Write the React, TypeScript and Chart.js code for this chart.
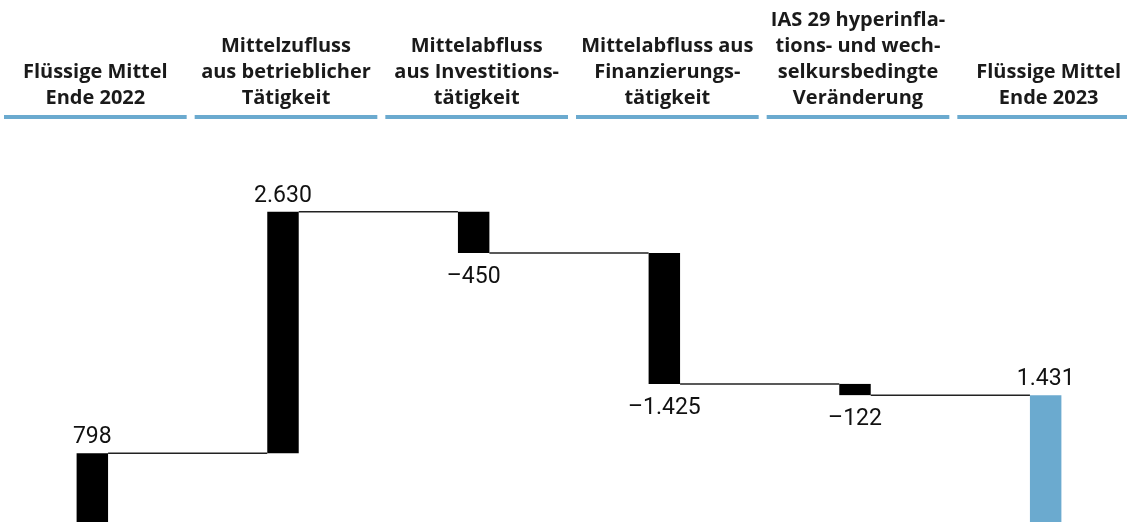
import React, { useEffect, useRef } from 'react';
import { Chart, registerables } from 'chart.js';

Chart.register(...registerables);

// ---- data ----
const categories: string[][] = [
  ['Flüssige Mittel', 'Ende 2022'],
  ['Mittelzufluss', 'aus betrieblicher', 'Tätigkeit'],
  ['Mittelabfluss', 'aus Investitions-', 'tätigkeit'],
  ['Mittelabfluss aus', 'Finanzierungs-', 'tätigkeit'],
  ['IAS 29 hyperinfla-', 'tions- und wech-', 'selkursbedingte', 'Veränderung'],
  ['Flüssige Mittel', 'Ende 2023'],
];
const values: number[] = [798, 2630, -450, -1425, -122, 1431];
const isTotal: boolean[] = [true, false, false, false, false, true];
const isFinal: boolean[] = [false, false, false, false, false, true];

const BLACK = '#000000';
const BLUE = '#6BAACF';
const TEXT = '#1a1a1a';

function fmt(v: number): string {
  const s = String(Math.abs(v)).replace(/\B(?=(\d{3})+(?!\d))/g, '.');
  return (v < 0 ? '\u2013' : '') + s;
}

// derived floating ranges
const ends: number[] = [];
const ranges: [number, number][] = [];
{
  let run = 0;
  values.forEach((v, i) => {
    if (isTotal[i]) {
      run = v;
      ranges.push([0, v]);
    } else {
      const s = run;
      run += v;
      ranges.push([Math.min(s, run), Math.max(s, run)]);
    }
    ends.push(run);
  });
}

const decorPlugin = {
  id: 'waterfallDecor',
  afterDraw(chart: any) {
    const ctx = chart.ctx as CanvasRenderingContext2D;
    const x = chart.scales.x;
    const y = chart.scales.y;
    const meta = chart.getDatasetMeta(0);
    ctx.save();
    // header underline bars
    const cw = x.width / categories.length;
    ctx.fillStyle = BLUE;
    categories.forEach((_, i) => {
      const cx = x.getPixelForTick(i) + 3;
      const w = cw - 8;
      ctx.fillRect(cx - w / 2, x.bottom - 5, w, 4);
    });
    // connectors
    ctx.strokeStyle = '#222222';
    ctx.lineWidth = 1.5;
    for (let i = 0; i < meta.data.length - 1; i++) {
      const a = meta.data[i];
      const b = meta.data[i + 1];
      const py = y.getPixelForValue(ends[i]);
      ctx.beginPath();
      ctx.moveTo(a.x + a.width / 2, py);
      ctx.lineTo(b.x - b.width / 2, py);
      ctx.stroke();
    }
    // value labels
    ctx.fillStyle = '#111111';
    ctx.font = '400 23px Roboto';
    ctx.textAlign = 'center';
    ctx.textBaseline = 'alphabetic';
    meta.data.forEach((bar: any, i: number) => {
      const v = values[i];
      let py: number;
      if (v >= 0) {
        py = y.getPixelForValue(ranges[i][1]) - 10;
      } else {
        py = y.getPixelForValue(ranges[i][0]) + 30;
      }
      ctx.fillText(fmt(v), bar.x, py);
    });
    ctx.restore();
  },
};

export default function App() {
  const ref = useRef<HTMLCanvasElement | null>(null);
  useEffect(() => {
    if (!ref.current) return;
    const chart = new Chart(ref.current, {
      type: 'bar',
      data: {
        labels: categories as any,
        datasets: [
          {
            data: ranges as any,
            backgroundColor: values.map((_, i) => (isFinal[i] ? BLUE : BLACK)),
            borderWidth: 0,
            barPercentage: 0.165,
            categoryPercentage: 1,
          },
        ],
      },
      options: {
        animation: false,
        responsive: false,
        maintainAspectRatio: false,
        layout: { padding: 0 },
        plugins: { legend: { display: false }, tooltip: { enabled: false } },
        scales: {
          x: {
            type: 'category',
            position: 'top',
            offset: true,
            grid: { display: false, drawTicks: false },
            border: { display: false },
            ticks: {
              autoSkip: false,
              maxRotation: 0,
              minRotation: 0,
              padding: 9,
              labelOffset: 3,
              color: TEXT,
              font: { family: 'Open Sans', weight: 'bold', size: 20, lineHeight: 1.3 },
            },
            afterFit: (s: any) => {
              s.height = 120;
            },
          },
          y: {
            display: false,
            min: 50,
            max: 4426,
          },
        },
      },
      plugins: [decorPlugin],
    });
    return () => chart.destroy();
  }, []);
  return (
    <div style={{ position: 'absolute', left: 0, top: 0, width: 1127, height: 522, overflow: 'hidden' }}>
      <canvas
        ref={ref}
        width={1144}
        height={522}
        style={{ position: 'absolute', left: -3, top: 0, width: 1144, height: 522 }}
      />
    </div>
  );
}
